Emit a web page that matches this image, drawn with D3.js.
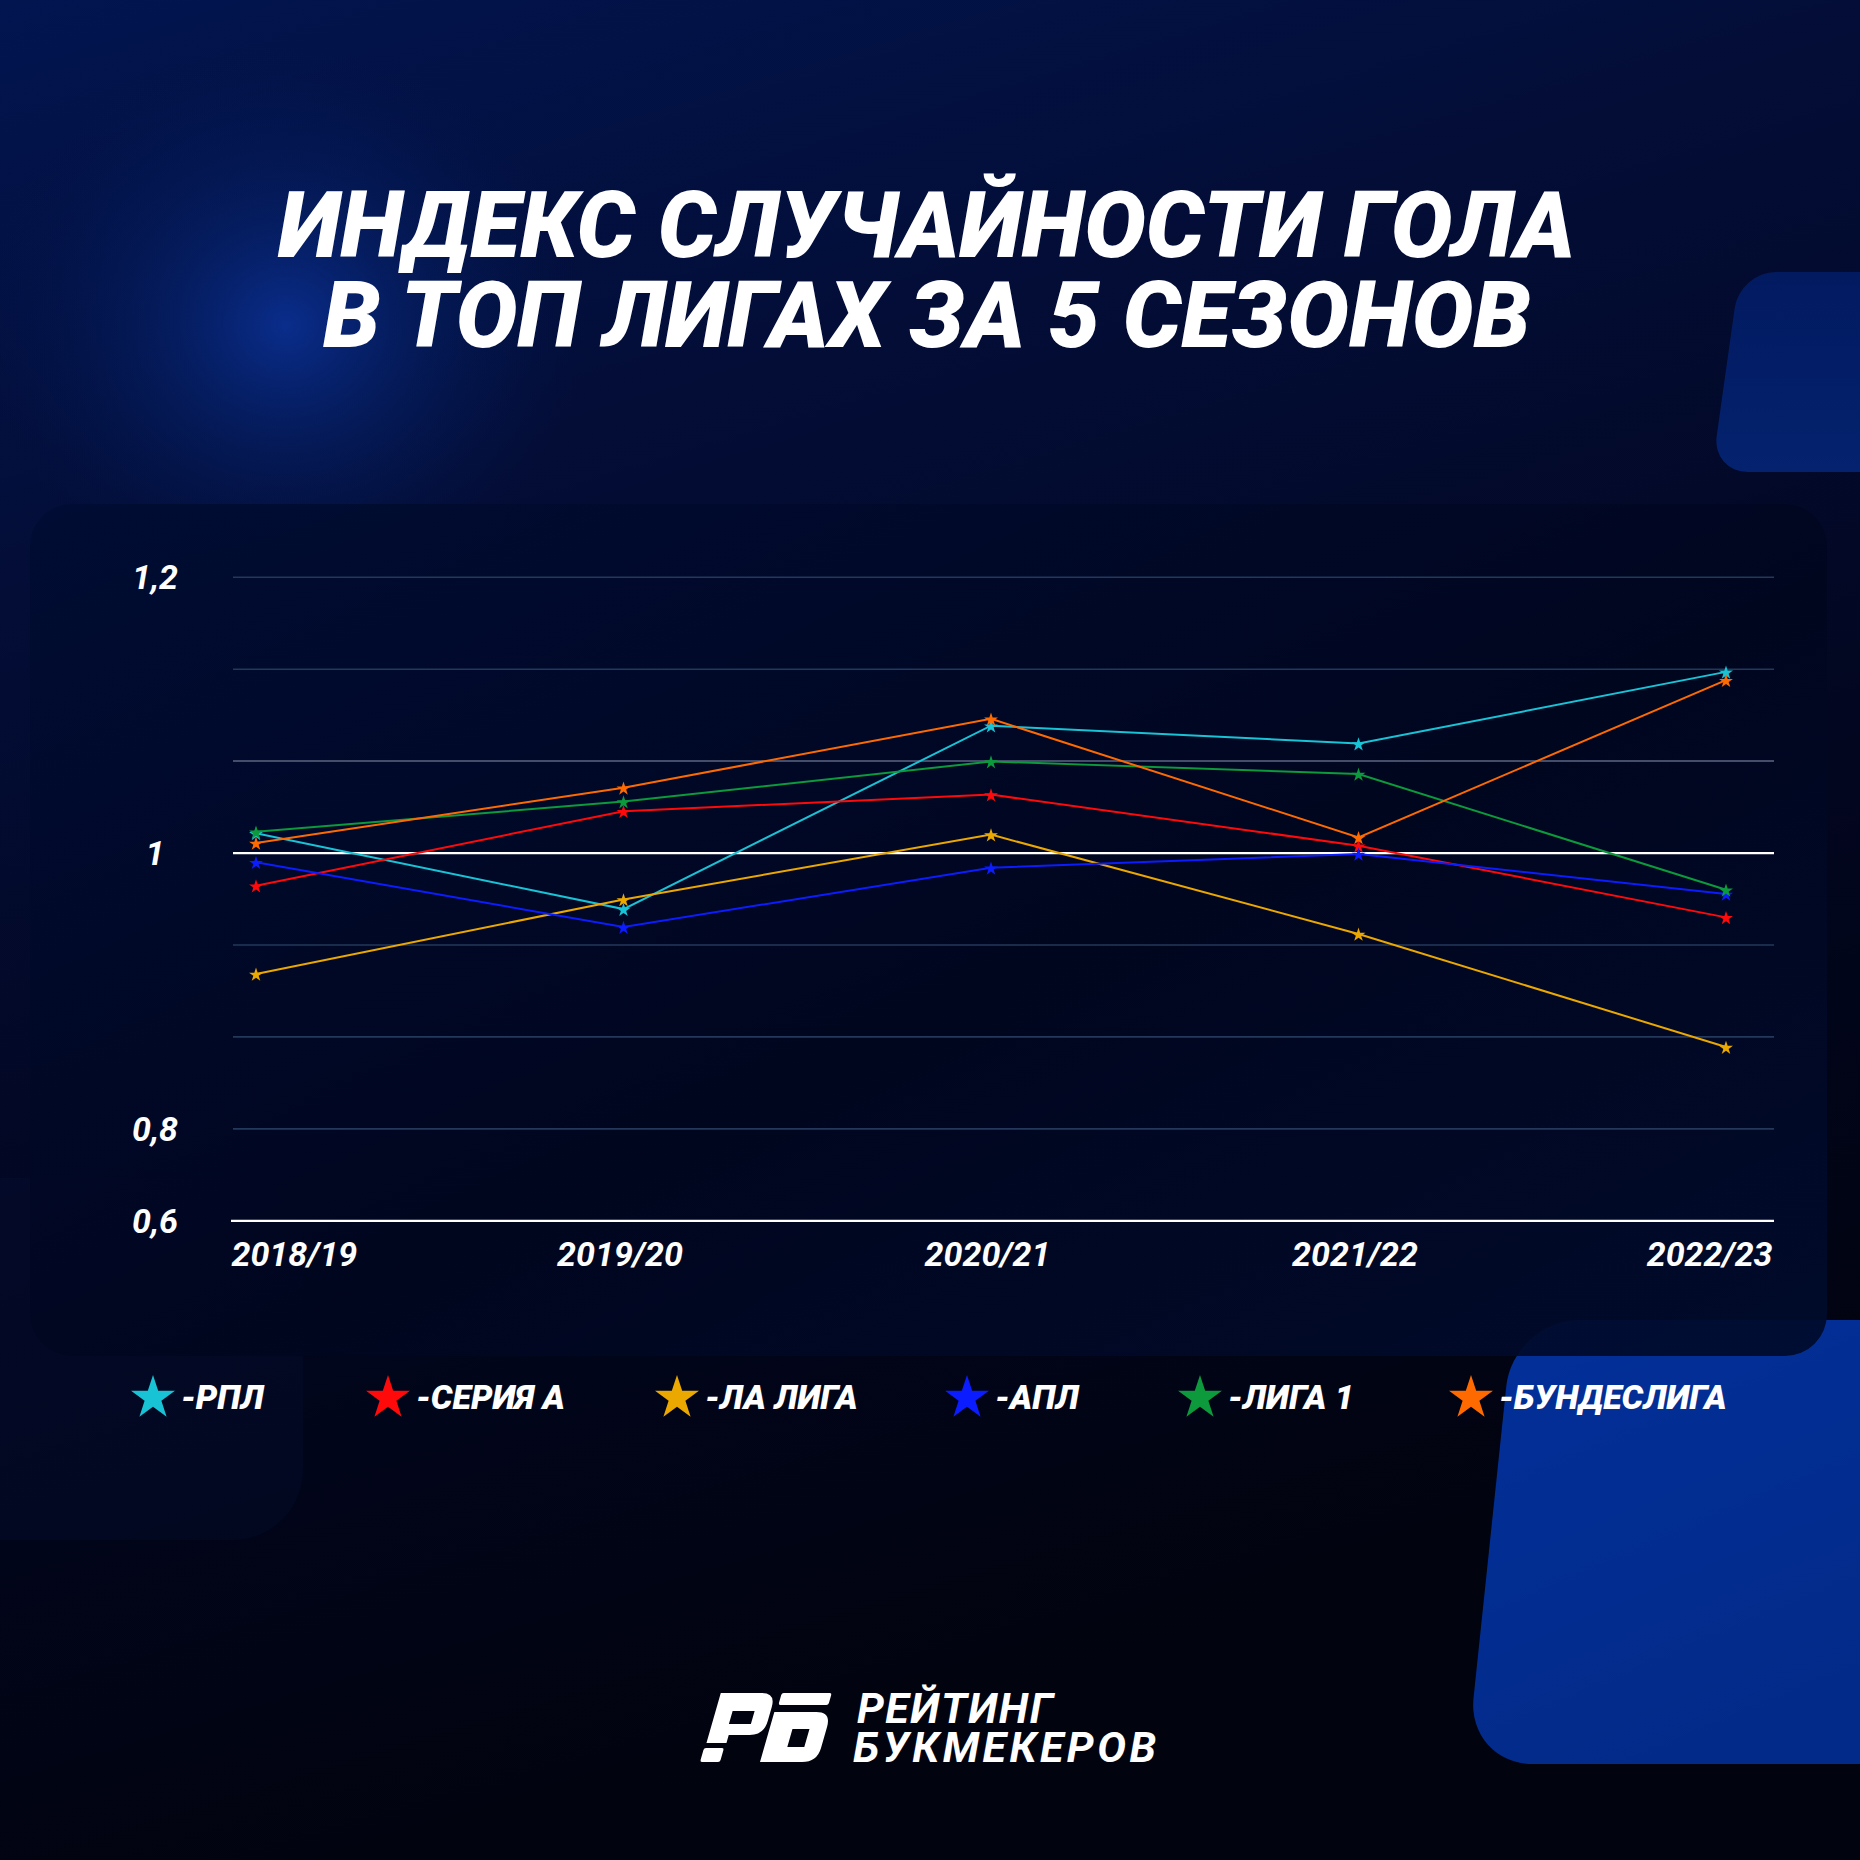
<!DOCTYPE html>
<html>
<head>
<meta charset="utf-8">
<script src="https://cdn.jsdelivr.net/npm/d3@7"></script>
<style>
  html, body { margin: 0; padding: 0; background: #02040f; }
  svg { display: block; }
</style>
</head>
<body>
<div class="canvas"></div>
<script>
// data
const seasons = ['2018/19', '2019/20', '2020/21', '2021/22', '2022/23'];
const leagues = ['РПЛ', 'СЕРИЯ А', 'ЛА ЛИГА', 'АПЛ', 'ЛИГА 1', 'БУНДЕСЛИГА'];

const rpl = [1.014, 0.959, 1.092, 1.079, 1.131];
const serieA = [0.976, 1.030, 1.042, 1.005, 0.953];
const laLiga = [0.912, 0.966, 1.013, 0.941, 0.859];
const apl = [0.993, 0.946, 0.989, 0.999, 0.970];
const ligue1 = [1.015, 1.037, 1.066, 1.057, 0.973];
const bundesliga = [1.007, 1.047, 1.097, 1.011, 1.125];

const yTicks = [1.2, 1.1333, 1.0667, 1, 0.9333, 0.8667, 0.8, 0.7333];
const yTickLabels = ['1,2', '', '', '1', '', '', '0,8', '0,6'];

const titleLines = ['ИНДЕКС СЛУЧАЙНОСТИ ГОЛА', 'В ТОП ЛИГАХ ЗА 5 СЕЗОНОВ'];
const logoLines = ['РЕЙТИНГ', 'БУКМЕКЕРОВ'];

const series = [rpl, serieA, laLiga, apl, ligue1, bundesliga];
const colors = ['#19c3d6', '#ff0a0a', '#eba800', '#0b1dff', '#0c9a3c', '#ff6a00'];
// legend star centres (layout only)
const legendX = [153, 388, 677, 967, 1200, 1471];

const W = 1860, H = 1860;
const svg = d3.select('.canvas')
  .append('svg')
  .attr('width', W)
  .attr('height', H);

const defs = svg.append('defs');

// background gradients
const bg = defs.append('linearGradient').attr('id', 'bg')
  .attr('x1', 0).attr('y1', 0).attr('x2', 0.3).attr('y2', 1);
bg.append('stop').attr('offset', 0).attr('stop-color', '#021550');
bg.append('stop').attr('offset', 0.3).attr('stop-color', '#030d36');
bg.append('stop').attr('offset', 0.65).attr('stop-color', '#02061f');
bg.append('stop').attr('offset', 1).attr('stop-color', '#01030e');

const glow = defs.append('radialGradient').attr('id', 'glow');
glow.append('stop').attr('offset', 0).attr('stop-color', '#0a2d8c').attr('stop-opacity', 1);
glow.append('stop').attr('offset', 0.4).attr('stop-color', '#06236f').attr('stop-opacity', 0.6);
glow.append('stop').attr('offset', 1).attr('stop-color', '#031650').attr('stop-opacity', 0);

const shapeGrad = defs.append('linearGradient').attr('id', 'shape')
  .attr('x1', 0).attr('y1', 0).attr('x2', 0).attr('y2', 1);
shapeGrad.append('stop').attr('offset', 0).attr('stop-color', '#021a60');
shapeGrad.append('stop').attr('offset', 1).attr('stop-color', '#04226f');

const shapeGrad2 = defs.append('linearGradient').attr('id', 'shape2')
  .attr('x1', 0).attr('y1', 0).attr('x2', 0.5).attr('y2', 1);
shapeGrad2.append('stop').attr('offset', 0).attr('stop-color', '#02309a');
shapeGrad2.append('stop').attr('offset', 1).attr('stop-color', '#022a88');

const panelGrad = defs.append('linearGradient').attr('id', 'panel')
  .attr('x1', 0).attr('y1', 0).attr('x2', 1).attr('y2', 1);
panelGrad.append('stop').attr('offset', 0).attr('stop-color', '#000c33');
panelGrad.append('stop').attr('offset', 0.55).attr('stop-color', '#01061f');
panelGrad.append('stop').attr('offset', 1).attr('stop-color', '#000b2c');

svg.append('rect').attr('width', W).attr('height', H).attr('fill', 'url(#bg)');
svg.append('ellipse')
  .attr('cx', 286).attr('cy', 325).attr('rx', 300).attr('ry', 280)
  .attr('fill', 'url(#glow)');

// decorative shapes
svg.append('rect')
  .attr('x', 1778).attr('y', 272).attr('width', 200).attr('height', 200).attr('rx', 36)
  .attr('transform', 'skewX(-8)')
  .attr('fill', 'url(#shape)');
svg.append('rect')
  .attr('x', 1652).attr('y', 1320).attr('width', 500).attr('height', 444).attr('rx', 66)
  .attr('transform', 'skewX(-6)')
  .attr('fill', 'url(#shape2)');
svg.append('rect')
  .attr('x', -80).attr('y', 1178).attr('width', 383).attr('height', 362).attr('rx', 70)
  .attr('fill', '#061035').attr('opacity', 0.3);

// chart panel
svg.append('rect')
  .attr('x', 30).attr('y', 504).attr('width', 1797).attr('height', 852).attr('rx', 42)
  .attr('fill', 'url(#panel)')
  .attr('opacity', 0.93);

// title
const title = svg.append('text')
  .attr('text-anchor', 'middle')
  .attr('font-family', 'Roboto, sans-serif')
  .attr('font-weight', 900)
  .attr('font-style', 'italic')
  .attr('font-size', 92)
  .attr('fill', '#ffffff');
title.selectAll('tspan')
  .data(titleLines)
  .enter()
  .append('tspan')
  .attr('x', 927)
  .attr('y', (d, i) => 257 + i * 90)
  .text(d => d);

// scales
const x = d3.scalePoint()
  .domain(seasons)
  .range([256, 1726]);

const y = d3.scaleLinear()
  .domain([0.7333, 1.2])
  .range([1220.4, 576.7]);

// grid + y labels
const yAxisGroup = svg.append('g').attr('transform', 'translate(233,0)');
const yAxis = d3.axisLeft(y)
  .tickValues(yTicks)
  .tickSize(-1541)
  .tickFormat((d, i) => yTickLabels[i]);
yAxisGroup.call(yAxis);
yAxisGroup.select('.domain').remove();
yAxisGroup.selectAll('.tick line')
  .attr('stroke', (d, i) => i === 3 || i === 7 ? '#ffffff' : (i === 2 ? '#5b6682' : '#23385a'))
  .attr('stroke-width', (d, i) => i === 3 || i === 7 ? 2.2 : 1.6)
  .attr('x1', (d, i) => i === 7 ? -2 : 0);
yAxisGroup.selectAll('.tick text')
  .attr('x', -78)
  .attr('dy', '0.35em')
  .attr('text-anchor', 'middle')
  .attr('font-family', 'Roboto, sans-serif')
  .attr('font-weight', 700)
  .attr('font-style', 'italic')
  .attr('font-size', 34)
  .attr('fill', '#ffffff');

// x labels
const xAxisGroup = svg.append('g').attr('transform', 'translate(0,1222)');
const xAxis = d3.axisBottom(x).tickSize(0).tickPadding(0);
xAxisGroup.call(xAxis);
xAxisGroup.select('.domain').remove();
xAxisGroup.selectAll('.tick text')
  .attr('y', 44)
  .attr('dy', 0)
  .attr('x', (d, i) => i === 0 ? -25 : (i === seasons.length - 1 ? 46 : -4))
  .attr('text-anchor', (d, i) => i === 0 ? 'start' : (i === seasons.length - 1 ? 'end' : 'middle'))
  .attr('font-family', 'Roboto, sans-serif')
  .attr('font-weight', 700)
  .attr('font-style', 'italic')
  .attr('font-size', 34)
  .attr('fill', '#ffffff');

// lines + star markers
const line = d3.line()
  .x((d, i) => x(seasons[i]))
  .y(d => y(d));

const star = d3.symbol().type(d3.symbolStar);

const graph = svg.append('g');
series.forEach((vals, s) => {
  graph.append('path')
    .attr('d', line(vals))
    .attr('fill', 'none')
    .attr('stroke', colors[s])
    .attr('stroke-width', 2);
});
series.forEach((vals, s) => {
  graph.selectAll(null)
    .data(vals)
    .enter()
    .append('path')
    .attr('d', star.size(60)())
    .attr('transform', (d, i) => `translate(${x(seasons[i])},${y(d) + 1})`)
    .attr('fill', colors[s]);
});

// legend
const legend = svg.append('g');
leagues.forEach((name, i) => {
  legend.append('path')
    .attr('d', star.size(600)())
    .attr('transform', `translate(${legendX[i]},1398)`)
    .attr('fill', colors[i]);
  legend.append('text')
    .attr('x', legendX[i] + 28)
    .attr('y', 1409)
    .attr('font-family', 'Roboto, sans-serif')
    .attr('font-weight', 900)
    .attr('font-style', 'italic')
    .attr('font-size', 34)
    .attr('fill', '#ffffff')
    .text('-' + name);
});

// logo
const logo = svg.append('g');
const mark = logo.append('g').attr('transform', 'translate(690,1762) skewX(-16)');
mark.append('path')
  .attr('fill-rule', 'evenodd')
  .attr('fill', '#ffffff')
  .attr('d', 'M11,-69 H52 Q66,-69 66,-55 V-41 Q66,-27 52,-27 H31 V-19 H11 Z M28,-51 H50 V-38 H28 Z');
mark.append('rect').attr('x', 10).attr('y', -14).attr('width', 20).attr('height', 14).attr('rx', 2).attr('fill', '#ffffff');
mark.append('rect').attr('x', 72).attr('y', -69).attr('width', 50).attr('height', 12).attr('rx', 2).attr('fill', '#ffffff');
mark.append('path')
  .attr('fill-rule', 'evenodd')
  .attr('fill', '#ffffff')
  .attr('d', 'M70,-50 H112 Q127,-50 127,-35 V-14 Q127,0 112,0 H70 Z M93,-33 H110 V-15 H93 Z');
logo.append('text')
  .attr('font-family', 'Roboto, sans-serif')
  .attr('font-weight', 700)
  .attr('font-style', 'italic')
  .attr('font-size', 43)
  .attr('fill', '#ffffff')
  .selectAll('tspan')
  .data(logoLines)
  .enter()
  .append('tspan')
  .attr('x', (d, i) => i === 0 ? 857 : 853)
  .attr('y', (d, i) => 1723 + i * 39)
  .attr('textLength', (d, i) => i === 0 ? 196 : 303)
  .attr('lengthAdjust', 'spacing')
  .text(d => d);
</script>
</body>
</html>
